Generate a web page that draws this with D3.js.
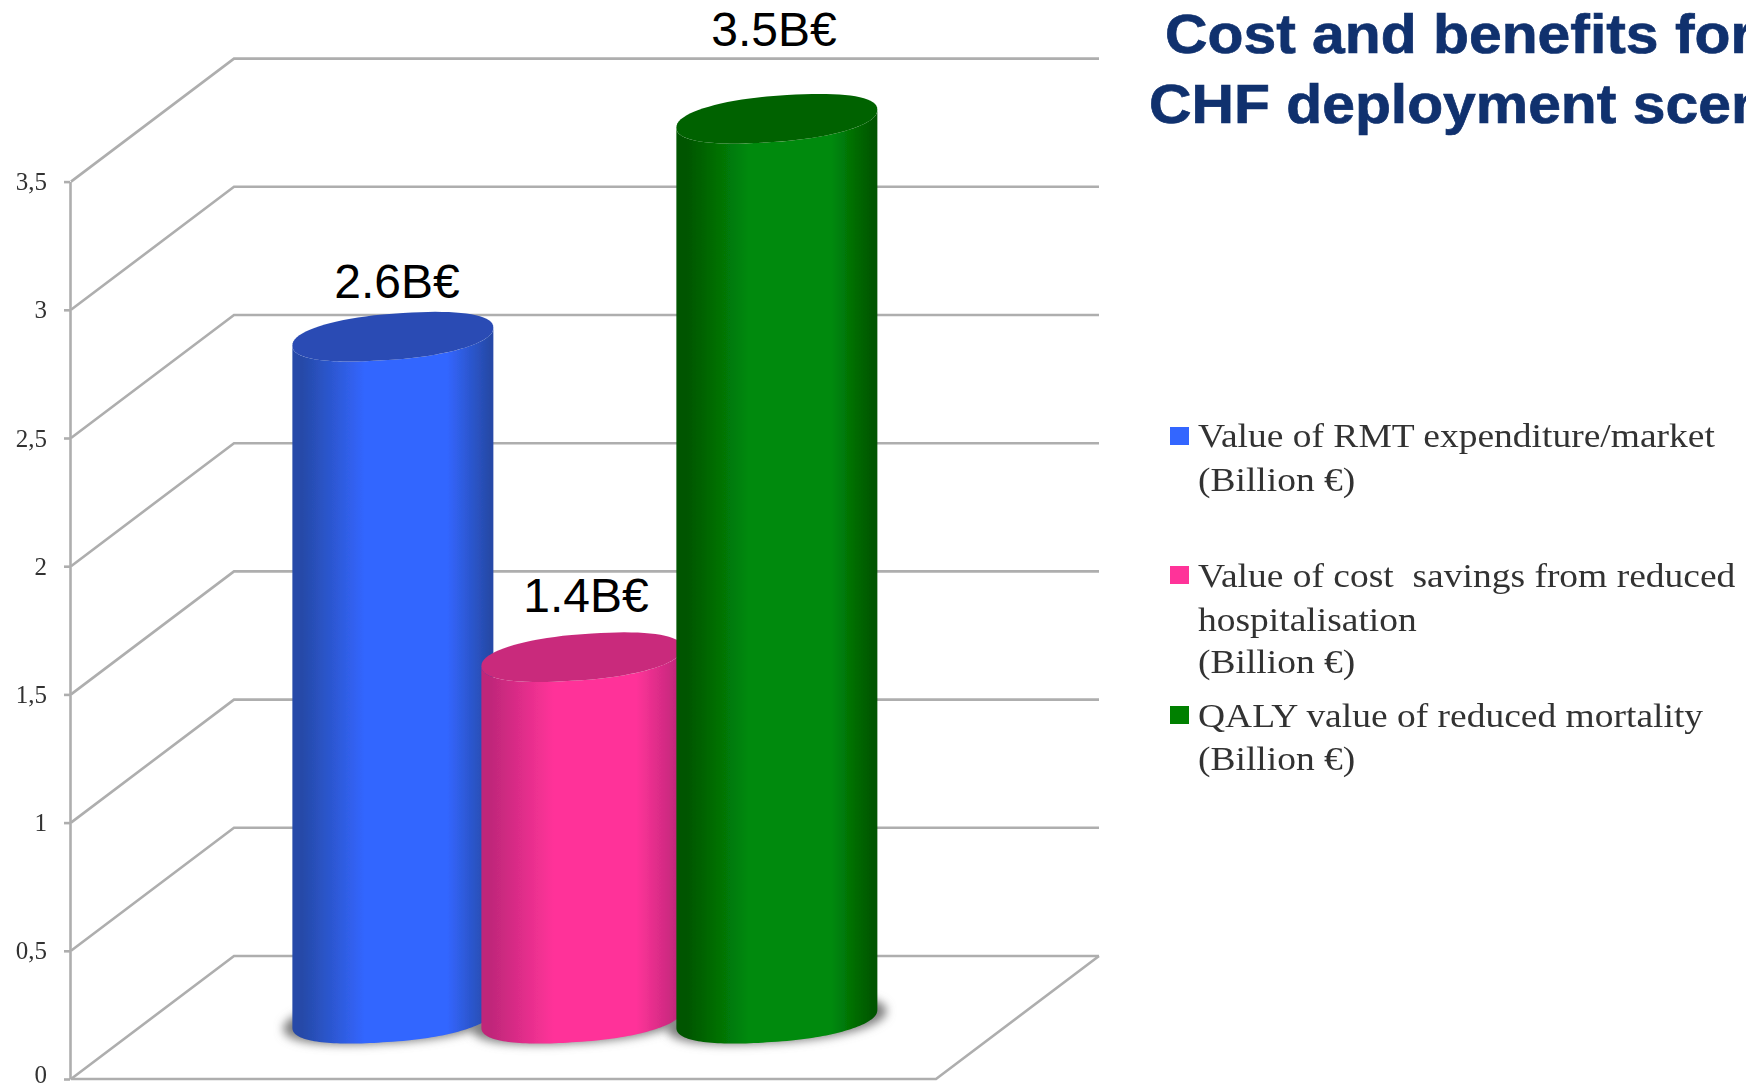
<!DOCTYPE html>
<html><head><meta charset="utf-8">
<script src="https://cdn.jsdelivr.net/npm/d3@7/dist/d3.min.js"></script>
<style>html,body{margin:0;padding:0;background:#fff;overflow:hidden}svg{display:block}</style>
</head><body><div id="chart"></div>
<script>
const categories = ["RMT", "Savings", "QALY"];
const values = [2.66, 1.41, 3.51];
const valueLabels = ["2.6B€", "1.4B€", "3.5B€"];
const yTicks = [0, 0.5, 1, 1.5, 2, 2.5, 3, 3.5];
const tickLabels = ["0", "0,5", "1", "1,5", "2", "2,5", "3", "3,5"];
const titleLines = ["Cost and benefits for", "CHF deployment scen"];
const legendLines = [
  ["Value of RMT expenditure/market", "(Billion €)"],
  ["Value of cost  savings from reduced", "hospitalisation", "(Billion €)"],
  ["QALY value of reduced mortality", "(Billion €)"]
];
const baseColors = ["#3366ff", "#ff3399", "#058a0a"];
const edgeColors = ["#264aa8", "#c0277a", "#005500"];
const topColors = ["#2a4cb4", "#c92a7c", "#006200"];
const swatchColors = ["#3366ff", "#ff3399", "#008000"];

const W = 1746, H = 1088;
const svg = d3.select("#chart").append("svg").attr("width", W).attr("height", H);
const defs = svg.append("defs");
defs.append("filter").attr("id", "soft").append("feGaussianBlur").attr("stdDeviation", 0.6);
defs.append("filter").attr("id", "softText").append("feGaussianBlur").attr("stdDeviation", 0.45);
defs.append("filter").attr("id", "shadow").attr("x", "-20%").attr("y", "-50%").attr("width", "140%").attr("height", "200%")
  .append("feGaussianBlur").attr("stdDeviation", 5);

// oblique 3D projection
const axisX = 71, floorRight = 936, depthX = 163, depthY = 123;
const y = d3.scaleLinear().domain([0, 3.5]).range([1079, 181.6]);
const x = d3.scalePoint().domain(categories).range([315.5, 699.5]);
const slotNudge = [0, -3, 0];
const barDepth = 0.49, radius = 100.5, shear = 9, minor = 23, roundness = 0.9;

// walls and floor
const grid = svg.append("g").attr("fill", "none").attr("stroke", "#aeaeae").attr("stroke-width", 2.6).attr("filter", "url(#soft)");
const lineGen = d3.line();
yTicks.forEach(v => {
  grid.append("path").attr("d", lineGen([[axisX, y(v)], [axisX + depthX, y(v) - depthY], [axisX + depthX + (floorRight - axisX), y(v) - depthY]]));
});
grid.append("path").attr("d", lineGen([[axisX, y(0)], [floorRight, y(0)], [floorRight + depthX, y(0) - depthY]]));

// value axis
const axisG = svg.append("g").attr("transform", `translate(${axisX - 1},0)`)
  .call(d3.axisLeft(y).tickValues(yTicks).tickFormat((d, i) => tickLabels[i]).tickSize(6).tickSizeOuter(0).tickPadding(17))
  .attr("filter", "url(#soft)");
axisG.selectAll("path,line").attr("stroke", "#aeaeae").attr("stroke-width", 2.6);
axisG.selectAll("text").attr("font-family", "'Liberation Serif'").attr("font-size", 25).attr("fill", "#333")
  .attr("dy", d => d === 0 ? "0.13em" : "0.32em");

// cylinders: a rounded, slightly tilted cross-section
const spow = v => Math.sign(v) * Math.pow(Math.abs(v), roundness);
const ellipsePt = (cx, cy, t) => {
  const c = spow(Math.cos(t)), s = spow(Math.sin(t));
  return [cx + radius * c, cy - shear * Math.cos(t) + minor * s];
};
const arc = (cx, cy, a, b) => d3.range(0, 81).map(i => ellipsePt(cx, cy, a + (b - a) * i / 80));

const shadows = svg.append("g");
const bars = svg.append("g");
categories.forEach((c, i) => {
  const cx = x(c) + depthX * barDepth - 2.5 + slotNudge[i];
  const baseY = y(0) - depthY * barDepth;
  const topY = y(values[i]) - depthY * barDepth;
  const g = defs.append("linearGradient").attr("id", "bar" + i).attr("x1", 0).attr("x2", 1).attr("y1", 0).attr("y2", 0);
  [[0, edgeColors[i]], [0.05, edgeColors[i]], [0.36, baseColors[i]], [0.77, baseColors[i]], [0.98, edgeColors[i]], [1, edgeColors[i]]]
    .forEach(s => g.append("stop").attr("offset", s[0]).attr("stop-color", s[1]));

  shadows.append("path")
    .attr("d", lineGen(arc(cx, baseY + 1, 0, 2 * Math.PI).map(p => [cx + (p[0] - cx) * 1.09, p[1]])) + "Z")
    .attr("fill", "#808080").attr("filter", "url(#shadow)");

  const bottomNear = arc(cx, baseY, Math.PI, 0);
  const topNear = arc(cx, topY, 0, Math.PI);
  const bar = bars.append("g").attr("filter", "url(#soft)");
  bar.append("path").attr("d", lineGen([...bottomNear, ...topNear]) + "Z").attr("fill", `url(#bar${i})`);
  bar.append("path").attr("d", lineGen(arc(cx, topY, 0, 2 * Math.PI)) + "Z").attr("fill", topColors[i]);
});

// data labels
const labelX = [397, 586, 774], labelY = [298, 612, 46];
svg.append("g").selectAll("text").data(valueLabels).join("text")
  .attr("x", (d, i) => labelX[i]).attr("y", (d, i) => labelY[i])
  .attr("text-anchor", "middle").attr("font-family", "'Liberation Sans'").attr("font-size", 48).attr("fill", "#000")
  .text(d => d);

// title
const titleX = [1165, 1149], titleY = [53, 123];
svg.append("g").selectAll("text").data(titleLines).join("text")
  .attr("transform", (d, i) => `translate(${titleX[i]},${titleY[i]}) scale(1.07,1)`)
  .attr("font-family", "'Liberation Sans'").attr("font-weight", "bold").attr("font-size", 55)
  .attr("fill", "#10316e").attr("stroke", "#10316e").attr("stroke-width", 0.7)
  .text(d => d);

// legend
const swatchY = [427, 566, 706];
const lineY = [[447, 491], [587, 631, 673], [727, 770]];
const leg = svg.append("g");
legendLines.forEach((lines, i) => {
  leg.append("rect").attr("x", 1170).attr("y", swatchY[i]).attr("width", 19).attr("height", 18).attr("fill", swatchColors[i]);
  lines.forEach((t, j) => {
    leg.append("text").attr("transform", `translate(1198,${lineY[i][j]}) scale(1.12,1)`)
      .attr("font-family", "'Liberation Serif'").attr("font-size", 33.5).attr("fill", "#333")
      .attr("filter", "url(#softText)").style("white-space", "pre").text(t);
  });
});
</script></body></html>
